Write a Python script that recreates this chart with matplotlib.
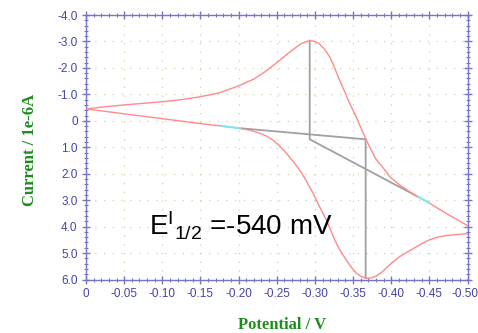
import matplotlib
matplotlib.use('Agg')
import matplotlib.pyplot as plt
from matplotlib.ticker import MultipleLocator
from matplotlib.transforms import ScaledTranslation

# forward sweep (0 -> -0.5 V), current in 1e-6 A
fwd_x = [0, -0.05, -0.10, -0.15, -0.178, -0.2016, -0.215, -0.2278, -0.237, -0.245,
         -0.254, -0.2627, -0.271, -0.280, -0.289, -0.2976, -0.306, -0.315, -0.3215,
         -0.328, -0.3345, -0.341, -0.3475, -0.354, -0.360, -0.367, -0.374, -0.380,
         -0.388, -0.395, -0.403, -0.411, -0.420, -0.428, -0.439, -0.450, -0.461,
         -0.472, -0.486, -0.50]
fwd_y = [-0.45, -0.265, -0.08, 0.105, 0.20, 0.28, 0.36, 0.47, 0.58, 0.73,
         0.95, 1.23, 1.52, 1.86, 2.28, 2.74, 3.24, 3.75, 4.20,
         4.63, 4.97, 5.26, 5.53, 5.75, 5.88, 5.95, 5.94, 5.88,
         5.72, 5.52, 5.32, 5.14, 4.98, 4.85, 4.66, 4.50, 4.40,
         4.34, 4.30, 4.27]

# reverse sweep (-0.5 -> 0 V)
rev_x = [-0.50, -0.472, -0.45, -0.435, -0.424, -0.41, -0.398, -0.39, -0.38, -0.374,
         -0.367, -0.36, -0.354, -0.345, -0.3375, -0.33, -0.3245, -0.3194, -0.312,
         -0.305, -0.2985, -0.2932, -0.287, -0.28, -0.265, -0.25, -0.235, -0.22,
         -0.20, -0.175, -0.15, -0.125, -0.10, -0.075, -0.05, -0.025, 0]
rev_y = [3.96, 3.50, 3.11, 2.87, 2.68, 2.40, 2.11, 1.80, 1.45, 1.12,
         0.70, 0.25, -0.15, -0.70, -1.20, -1.70, -2.10, -2.42, -2.73,
         -2.93, -3.01, -3.03, -2.98, -2.88, -2.55, -2.20, -1.86, -1.58,
         -1.32, -1.06, -0.91, -0.80, -0.72, -0.66, -0.60, -0.53, -0.45]

# baseline / peak markers
base1_x = [-0.2016, -0.3665, -0.3665]
base1_y = [0.28, 0.70, 5.95]
base2_x = [-0.2932, -0.2932, -0.435]
base2_y = [-3.03, 0.70, 2.87]

# fit regions (cyan)
fit1_x = [-0.178, -0.2016]
fit1_y = [0.20, 0.28]
fit2_x = [-0.435, -0.45]
fit2_y = [2.87, 3.11]

x_ticks = [0, -0.05, -0.10, -0.15, -0.20, -0.25, -0.30, -0.35, -0.40, -0.45, -0.50]
x_labels = ['0', '-0.05', '-0.10', '-0.15', '-0.20', '-0.25', '-0.30', '-0.35', '-0.40', '-0.45', '-0.50']
y_ticks = [-4, -3, -2, -1, 0, 1, 2, 3, 4, 5, 6]
y_labels = ['-4.0', '-3.0', '-2.0', '-1.0', '0', '1.0', '2.0', '3.0', '4.0', '5.0', '6.0']

spine_col = '#7474c8'
tick_col = '#4444a4'
label_col = '#1f8c1f'
red = '#ff8a8a'

fig = plt.figure(figsize=(4.78, 3.33), dpi=100)
ax = fig.add_axes([86/478, 1-279.5/333, (467.5-86)/478, (279.5-15)/333])

ax.plot(fwd_x, fwd_y, color=red, lw=1.0, zorder=3)
ax.plot(rev_x, rev_y, color=red, lw=1.0, zorder=3)
ax.plot([fwd_x[-1], rev_x[0]], [fwd_y[-1], rev_y[0]], color=red, lw=1.0, zorder=3)
ax.plot(base1_x, base1_y, color='#a0a0a0', lw=1.3, zorder=2)
ax.plot(base2_x, base2_y, color='#a0a0a0', lw=1.3, zorder=2)
ax.plot(fit1_x, fit1_y, color='#7fe8ec', lw=1.5, zorder=4)
ax.plot(fit2_x, fit2_y, color='#7fe8ec', lw=1.5, zorder=4)

ax.set_xlim(0, -0.5)
ax.set_ylim(6.0, -4.0)
ax.set_xticks(x_ticks)
ax.set_xticklabels(x_labels)
ax.set_yticks(y_ticks)
ax.set_yticklabels(y_labels)
ax.xaxis.set_minor_locator(MultipleLocator(0.01))
ax.yaxis.set_minor_locator(MultipleLocator(0.2))

ax.grid(True, which='major', color='#d8cfa0', linestyle=(0, (1, 6)), lw=0.9)
ax.set_axisbelow(True)

for s in ax.spines.values():
    s.set_color(spine_col)
    s.set_linewidth(1.0)

ax.tick_params(which='both', colors=spine_col, labelcolor=tick_col, direction='inout',
               top=True, right=True, labeltop=False, labelright=False)
ax.tick_params(which='major', length=6, width=1.0, labelsize=8.5, pad=3)
ax.tick_params(which='minor', length=3, width=0.8)
for lab in ax.get_xticklabels() + ax.get_yticklabels():
    lab.set_family(['Liberation Sans'])

# nudge the last x label so it stays inside the image
last = ax.get_xticklabels()[-1]
last.set_transform(last.get_transform() + ScaledTranslation(-2.5/100, 0, fig.dpi_scale_trans))

ax.set_xlabel('Potential / V', family=['Liberation Serif'], fontweight='bold',
              fontsize=12, color=label_col, va='center')
ax.xaxis.set_label_coords(0.515, -0.172)
ax.set_ylabel('Current / 1e-6A', family=['Liberation Serif'], fontweight='bold',
              fontsize=12, color=label_col, va='center')
ax.yaxis.set_label_coords(-0.147, 0.49)

plt.rcParams['mathtext.fontset'] = 'custom'
plt.rcParams['mathtext.rm'] = 'Liberation Sans'
ax.text(-0.0825, 4.32, r'$\mathregular{E^{I}{}_{1/2}}$ =-540 mV', family=['Liberation Sans'],
        fontsize=20, color='black', va='baseline', ha='left', zorder=5)

fig.savefig('out.png', dpi=100)
